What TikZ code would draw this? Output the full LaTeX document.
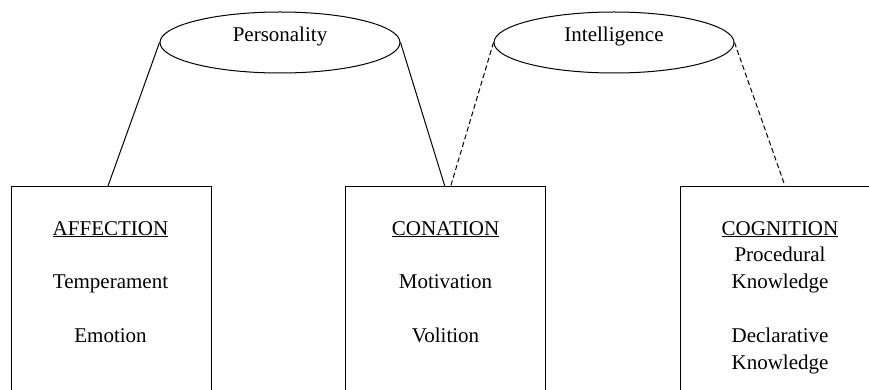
\documentclass[tikz,border=0pt]{standalone}
\usepackage{fontspec}
\setmainfont{Liberation Serif}
\usetikzlibrary{shapes.geometric}
\newcommand\myul[1]{\setbox0\hbox{#1}\rlap{\vrule width\wd0 height -0.6pt depth 2.4pt}\box0}
\begin{document}
\begin{tikzpicture}[x=1pt,y=-1pt,
  every node/.style={font=\fontsize{21}{27}\selectfont},
  boxnode/.style={draw,line width=1pt,rectangle,minimum width=200pt,minimum height=240pt,inner sep=0pt},
  ell/.style={draw,line width=1pt,ellipse,minimum width=240pt,minimum height=61pt,inner sep=0pt},
  txt/.style={anchor=base,inner sep=0pt},
  link/.style={line width=1pt},
  dlink/.style={line width=1pt,dash pattern=on 5pt off 3pt}]
\useasboundingbox (0,0) rectangle (869,390);
\clip (0,0) rectangle (869,390);
% ellipses
\node[ell] (pers) at (280,42.5) {};
\node[ell] (intel) at (614,42.5) {};
\node[txt] (perst) at (280,42) {Personality};
\node[txt] (intelt) at (614,42) {Intelligence};
% boxes
\node[boxnode] (b1) at (111,306.5) {};
\node[boxnode] (b2) at (445.75,306.5) {};
\node[boxnode] (b3) at (780,306.5) {};
% box texts
\node[txt] (h1) at (110.5,235) {\myul{AFFECTION}};
\node[txt] (t1a) at (110.5,288.5) {Temperament};
\node[txt] (t1b) at (110.5,342.5) {Emotion};
\node[txt] (h2) at (445.5,235) {\myul{CONATION}};
\node[txt] (t2a) at (445.5,288.5) {Motivation};
\node[txt] (t2b) at (445.5,342.5) {Volition};
\node[txt] (h3) at (780,235) {\myul{COGNITION}};
\node[txt] (t3a) at (780,261.7) {Procedural};
\node[txt] (t3b) at (780,288.5) {Knowledge};
\node[txt] (t3c) at (780,342.5) {Declarative};
\node[txt] (t3d) at (780,369.3) {Knowledge};
% connectors
\draw[link] (pers.west) -- ([xshift=-3pt]b1.north);
\draw[link] (pers.east) -- ([xshift=-1pt]b2.north);
\draw[dlink] (intel.west) -- ([xshift=5pt]b2.north);
\draw[dlink] (intel.east) -- ([xshift=5pt]b3.north);
\end{tikzpicture}
\end{document}
